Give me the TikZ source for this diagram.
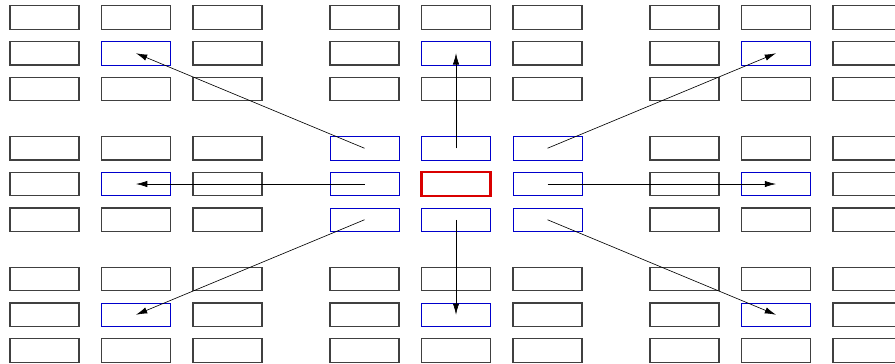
\documentclass[tikz,border=0pt]{standalone}
\usetikzlibrary{arrows.meta}
\begin{document}
\begin{tikzpicture}[x=0.025cm,y=-0.025cm,
  cell/.style={draw=black!75,line width=0.8pt,fill=white,minimum width=1.725cm,minimum height=0.5875cm,inner sep=0pt,outer sep=0pt},
  bluecell/.style={cell,draw=blue!80!black,line width=0.5pt},
  redcell/.style={cell,draw=red!85!black,line width=1.5pt},
  arr/.style={line width=0.45pt,-{Latex[length=8pt,width=4.5pt]}}]
\useasboundingbox (0,0) rectangle (895,363);
\foreach \i/\x in {1/44.5,2/136,3/227.5,4/364.5,5/456,6/547.5,7/684.5,8/776,9/867.5}{
  \foreach \j/\y in {1/17.5,2/53.25,3/89,4/148.25,5/184,6/219.75,7/279,8/314.75,9/350.5}{
    \pgfmathtruncatemacro\inI{(\i>3)*(\i<7)*(\j>3)*(\j<7)}
    \pgfmathtruncatemacro\outI{(mod(\i,3)==2)*(mod(\j,3)==2)}
    \pgfmathtruncatemacro\ctr{(\i==5)*(\j==5)}
    \ifnum\ctr=1
      \node[redcell] (b\i\j) at (\x,\y) {};
    \else
      \ifnum\inI=1
        \node[bluecell] (b\i\j) at (\x,\y) {};
      \else
        \ifnum\outI=1
          \node[bluecell] (b\i\j) at (\x,\y) {};
        \else
          \node[cell] (b\i\j) at (\x,\y) {};
        \fi
      \fi
    \fi
  }
}
\foreach \s/\t in {44/22,54/52,64/82,45/25,65/85,46/28,56/58,66/88}{
  \draw[arr] (b\s.center) -- (b\t.center);
}
\end{tikzpicture}
\end{document}
